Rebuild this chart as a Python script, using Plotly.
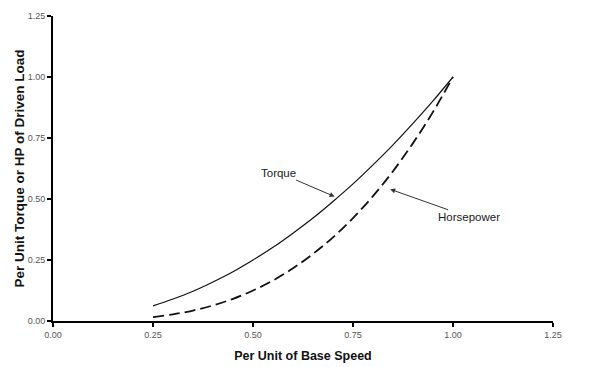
import plotly.graph_objects as go

speed = [0.25, 0.30, 0.35, 0.40, 0.45, 0.50, 0.55, 0.60, 0.65, 0.70, 0.75, 0.80, 0.85, 0.90, 0.95, 1.00]
torque = [0.062, 0.09, 0.122, 0.16, 0.202, 0.25, 0.302, 0.36, 0.422, 0.49, 0.562, 0.64, 0.722, 0.81, 0.902, 1.00]
horsepower = [0.016, 0.027, 0.043, 0.064, 0.091, 0.125, 0.166, 0.216, 0.275, 0.343, 0.422, 0.512, 0.614, 0.729, 0.857, 1.00]
ticks = [0.00, 0.25, 0.50, 0.75, 1.00, 1.25]
tick_text = ['0.00', '0.25', '0.50', '0.75', '1.00', '1.25']

fig = go.Figure()
fig.add_trace(go.Scatter(x=speed, y=torque, mode='lines', line_shape='spline',
                         line=dict(color='#111111', width=1.2)))
fig.add_trace(go.Scatter(x=speed, y=horsepower, mode='lines', line_shape='spline',
                         line=dict(color='#111111', width=1.8, dash='11px,5px')))

# arrows pointing to each curve
fig.add_annotation(x=0.704, y=0.51, ax=-56, ay=-24, text='Torque', showarrow=True,
                   arrowhead=2, arrowsize=1, arrowwidth=1, arrowcolor='#333333',
                   font=dict(family='Liberation Sans, Arial', size=11.5, color='#222222'))
fig.add_annotation(x=0.843, y=0.54, ax=79, ay=28, text='Horsepower', showarrow=True,
                   arrowhead=2, arrowsize=1, arrowwidth=1, arrowcolor='#333333',
                   font=dict(family='Liberation Sans, Arial', size=11.5, color='#222222'))

axis_font = dict(family='Liberation Sans, Arial', size=9, color='#555555')

fig.update_xaxes(range=[0, 1.25], tickvals=ticks, ticktext=tick_text, showgrid=False,
                 zeroline=False, showline=True, linecolor='black', linewidth=2,
                 ticks='outside', ticklen=4, tickwidth=1.5, tickcolor='black',
                 tickfont=axis_font, automargin=False,
                 title=dict(text='<b>Per Unit of Base Speed</b>', standoff=12,
                            font=dict(family='Liberation Sans, Arial', size=12.5, color='#111111')))
fig.update_yaxes(range=[0, 1.25], tickvals=ticks, ticktext=tick_text, showgrid=False,
                 zeroline=False, showline=True, linecolor='black', linewidth=2,
                 ticks='outside', ticklen=4, tickwidth=1.5, tickcolor='black',
                 tickfont=axis_font, automargin=False,
                 title=dict(text='<b>Per Unit Torque or HP of Driven Load</b>', standoff=0,
                            font=dict(family='Liberation Sans, Arial', size=13.5, color='#111111')))

# page body adds an 8px offset, so the figure is a bit smaller than the window
fig.update_layout(width=608, height=359, showlegend=False,
                  margin=dict(l=45, r=63, t=8, b=46),
                  plot_bgcolor='white', paper_bgcolor='white')

fig.write_html("out.html")
